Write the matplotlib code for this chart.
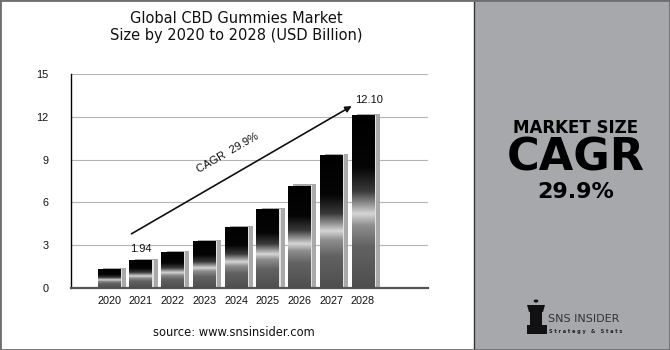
import matplotlib
matplotlib.use("Agg")
import matplotlib.pyplot as plt
import numpy as np
from matplotlib.colors import LinearSegmentedColormap
from matplotlib.patches import Rectangle, Polygon

years = ["2020", "2021", "2022", "2023", "2024", "2025", "2026", "2027", "2028"]
values = [1.30, 1.94, 2.52, 3.27, 4.25, 5.52, 7.17, 9.32, 12.10]
yticks = [0, 3, 6, 9, 12, 15]
title = "Global CBD Gummies Market\nSize by 2020 to 2028 (USD Billion)"
cagr_text = "CAGR  29.9%"
first_label = "1.94"
last_label = "12.10"

W, H = 670, 350
fig = plt.figure(figsize=(6.7, 3.5), dpi=100)
fig.patch.set_facecolor("white")

ax = fig.add_axes([71 / W, 1 - 288 / H, (428 - 71) / W, (288 - 74) / H])
x = np.arange(len(years))
bw = 0.72

cmap = LinearSegmentedColormap.from_list("bar", [
    (0.0, "#000000"), (0.30, "#050505"), (0.44, "#3a3a3a"),
    (0.51, "#8c8c8c"), (0.57, "#d6d6d6"), (0.64, "#8e8e8e"),
    (0.76, "#626262"), (1.0, "#4e4e4e")])
grad = np.linspace(0, 1, 256).reshape(-1, 1)

# shadow bars
ax.bar(x + 0.17, [v + 0.09 for v in values], width=bw, color="#a9a9a9",
       edgecolor="none", zorder=2)
ax.bar(x + bw / 2 + 0.02, [v + 0.05 for v in values], width=0.05,
       color="#e2e2e2", edgecolor="none", zorder=2.5)
bars = ax.bar(x, values, width=bw, color="none", edgecolor="none", zorder=3)
for b in bars:
    x0, w, h = b.get_x(), b.get_width(), b.get_height()
    im = ax.imshow(grad, cmap=cmap, aspect="auto", origin="upper",
                   extent=[x0, x0 + w, 0, h], zorder=3)
    im.set_clip_path(b)

ax.set_xlim(-1.2, 10.05)
ax.set_ylim(0, 15)
ax.set_yticks(yticks)
ax.set_xticks(x)
ax.set_xticklabels(years)
ax.grid(axis="y", color="#b5b5b5", lw=0.8, zorder=0)
ax.set_axisbelow(True)
for s in ["top", "right"]:
    ax.spines[s].set_visible(False)
ax.spines["left"].set_color("#000000")
ax.spines["left"].set_linewidth(1.0)
ax.spines["bottom"].set_color("#555555")
ax.spines["bottom"].set_linewidth(1.6)
ax.tick_params(length=0, labelsize=7.8, pad=6)
for lab in ax.get_xticklabels() + ax.get_yticklabels():
    lab.set_family("Liberation Sans")
    lab.set_color("#111111")
ax.tick_params(axis="y", pad=16)

ax.annotate("", xy=(7.72, 12.85), xytext=(0.63, 3.7),
            arrowprops=dict(arrowstyle="-|>", color="#111111", lw=1.2,
                            mutation_scale=9), zorder=5)
ax.text(3.75, 9.45, cagr_text, rotation=30, ha="center", va="center",
        fontsize=8, family="Liberation Sans", color="#111111",
        rotation_mode="anchor")
ax.text(1.0, 2.75, first_label, ha="center", va="center", fontsize=8,
        family="Liberation Sans", color="#111111")
ax.text(8.2, 13.2, last_label, ha="center", va="center", fontsize=8,
        family="Liberation Sans", color="#111111")

fig.text(236 / W, 1 - 27 / H, title, ha="center", va="center", fontsize=10.5,
         family="DejaVu Sans", color="#111111", linespacing=1.2)
fig.text(234 / W, 1 - 333 / H, "source: www.snsinsider.com", ha="center",
         va="center", fontsize=8.3, family="DejaVu Sans", color="#111111")

# right panel
fig.add_artist(Rectangle((474 / W, 0), 1 - 474 / W, 1, transform=fig.transFigure,
                         facecolor="#a7a8ab", edgecolor="none", zorder=0))
fig.add_artist(plt.Line2D([474 / W, 474 / W], [0, 1], transform=fig.transFigure,
                          color="#333333", lw=1.0))
fig.text(576 / W, 1 - 128 / H, "MARKET SIZE", ha="center", va="center",
         fontsize=12, fontweight="bold", family="DejaVu Sans", color="#000000")
fig.text(576 / W, 1 - 158 / H, "CAGR", ha="center", va="center",
         fontsize=32, fontweight="bold", family="DejaVu Sans", color="#000000")
fig.text(576 / W, 1 - 192 / H, "29.9%", ha="center", va="center",
         fontsize=16, fontweight="bold", family="DejaVu Sans", color="#000000")

# logo
def fx(px):
    return px / W

def fy(py):
    return 1 - py / H

icon = [
    Polygon([(fx(527), fy(305)), (fx(545), fy(305)), (fx(543), fy(312)),
             (fx(529), fy(312))], closed=True),
    Rectangle((fx(530), fy(325)), fx(12), 13 / H),
    Rectangle((fx(527), fy(334)), fx(20), 9 / H),
]
for p in icon:
    p.set_transform(fig.transFigure)
    p.set_facecolor("#111111")
    p.set_edgecolor("none")
    fig.add_artist(p)
fig.add_artist(plt.Circle((fx(536), fy(301)), 1.6 / W, transform=fig.transFigure,
                          color="#111111"))
fig.text(548 / W, 1 - 319 / H, "SNS INSIDER", ha="left", va="center",
         fontsize=8, family="Liberation Sans Narrow", color="#333333")
fig.text(549 / W, 1 - 331 / H, "S t r a t e g y   &   S t a t s", ha="left",
         va="center", fontsize=3.6, fontweight="bold", family="DejaVu Sans",
         color="#222222")

# outer frame
fig.add_artist(Rectangle((0, 0), 1, 1, transform=fig.transFigure,
                         facecolor="none", edgecolor="#6e6e6e", lw=2.0, zorder=10))

fig.savefig("out.png", dpi=100)
